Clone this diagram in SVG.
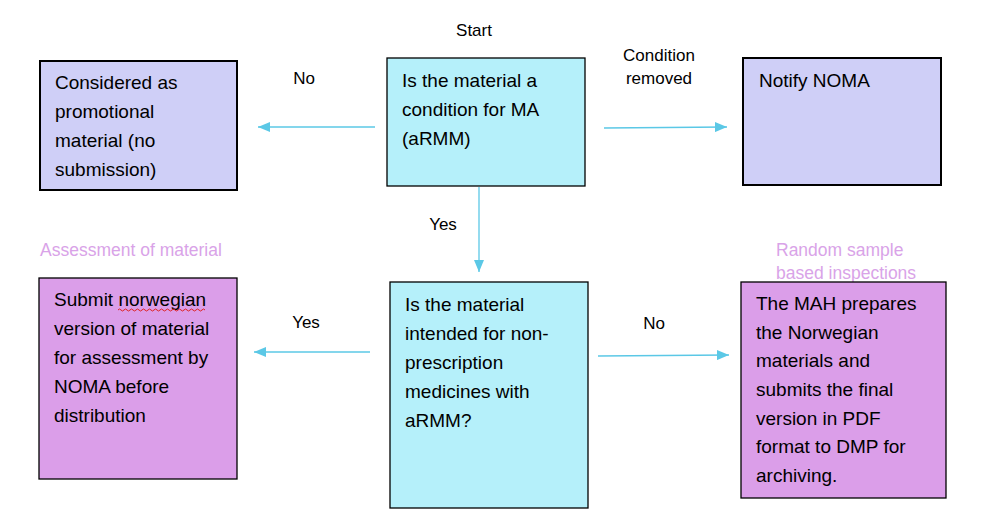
<svg xmlns="http://www.w3.org/2000/svg" width="982" height="528" viewBox="0 0 982 528">
<style>
  .box text, .t { font-family: "Liberation Sans", Arial, sans-serif; font-size: 19px; fill: #000; }
  .lbl { font-family: "Liberation Sans", Arial, sans-serif; font-size: 17px; fill: #000; }
  .note { font-family: "Liberation Sans", Arial, sans-serif; font-size: 17.5px; fill: #D9A3E8; }
  .lav { fill: #CFCFF7; stroke: #000; stroke-width: 2; }
  .cyan { fill: #B5F0FA; stroke: #000; stroke-width: 1.3; }
  .pur { fill: #DB9EE9; stroke: #000; stroke-width: 1.3; }
  .conn line { stroke: #5BC8E6; stroke-width: 1.3; }
</style>
<defs>
  <marker id="ah" markerWidth="12" markerHeight="10" refX="12" refY="5" orient="auto" markerUnits="userSpaceOnUse">
    <path d="M0,0 L12,5 L0,10 Z" fill="#5BC8E6"/>
  </marker>
</defs>
<rect width="982" height="528" fill="#fff"/>

<text class="lbl" x="474" y="36" text-anchor="middle">Start</text>
<text class="lbl" x="659" y="61" text-anchor="middle">Condition</text>
<text class="lbl" x="659" y="84" text-anchor="middle">removed</text>
<text class="lbl" x="304" y="84" text-anchor="middle">No</text>
<text class="lbl" x="443" y="230" text-anchor="middle">Yes</text>
<text class="lbl" x="306" y="328" text-anchor="middle">Yes</text>
<text class="lbl" x="654" y="329" text-anchor="middle">No</text>
<text class="note" x="40" y="256">Assessment of material</text>
<text class="note" x="776" y="256">Random sample</text>
<text class="note" x="776" y="279">based inspections</text>

<g id="n-promo" class="box">
  <rect class="lav" x="40" y="61" width="197" height="129"/>
  <text x="55" y="89">Considered as</text>
  <text x="55" y="118">promotional</text>
  <text x="55" y="147">material (no</text>
  <text x="55" y="176">submission)</text>
</g>
<g id="n-q1" class="box">
  <rect class="cyan" x="387" y="58" width="198" height="128"/>
  <text x="402" y="87">Is the material a</text>
  <text x="402" y="116">condition for MA</text>
  <text x="402" y="145">(aRMM)</text>
</g>
<g id="n-notify" class="box">
  <rect class="lav" x="743" y="58" width="198" height="127"/>
  <text x="759" y="87">Notify NOMA</text>
</g>
<g id="n-submit" class="box">
  <rect class="pur" x="39" y="278" width="198" height="201"/>
  <text x="54" y="306">Submit norwegian</text>
  <path d="M118,310 q1.5,-2 3,0 t3,0 t3,0 t3,0 t3,0 t3,0 t3,0 t3,0 t3,0 t3,0 t3,0 t3,0 t3,0 t3,0 t3,0 t3,0 t3,0 t3,0 t3,0 t3,0 t3,0 t3,0 t3,0 t3,0 t3,0 t3,0 t3,0 t3,0 t3,0" fill="none" stroke="#E02020" stroke-width="1"/>
  <text x="54" y="335">version of material</text>
  <text x="54" y="364">for assessment by</text>
  <text x="54" y="393">NOMA before</text>
  <text x="54" y="422">distribution</text>
</g>
<g id="n-q2" class="box">
  <rect class="cyan" x="390" y="282" width="198" height="226"/>
  <text x="405" y="311">Is the material</text>
  <text x="405" y="340">intended for non-</text>
  <text x="405" y="369">prescription</text>
  <text x="405" y="398">medicines with</text>
  <text x="405" y="427">aRMM?</text>
</g>
<g id="n-mah" class="box">
  <rect class="pur" x="741" y="282" width="205" height="216"/>
  <text x="756" y="310">The MAH prepares</text>
  <text x="756" y="339">the Norwegian</text>
  <text x="756" y="367">materials and</text>
  <text x="756" y="396">submits the final</text>
  <text x="756" y="425">version in PDF</text>
  <text x="756" y="453">format to DMP for</text>
  <text x="756" y="482">archiving.</text>
</g>

<g id="connectors" class="conn">
  <line x1="375" y1="127" x2="258" y2="127" marker-end="url(#ah)"/>
  <line x1="604" y1="128" x2="727" y2="127" marker-end="url(#ah)"/>
  <line x1="479" y1="187" x2="479" y2="272" marker-end="url(#ah)"/>
  <line x1="370" y1="352" x2="254" y2="352" marker-end="url(#ah)"/>
  <line x1="598" y1="356" x2="729" y2="355" marker-end="url(#ah)"/>
</g>
</svg>
